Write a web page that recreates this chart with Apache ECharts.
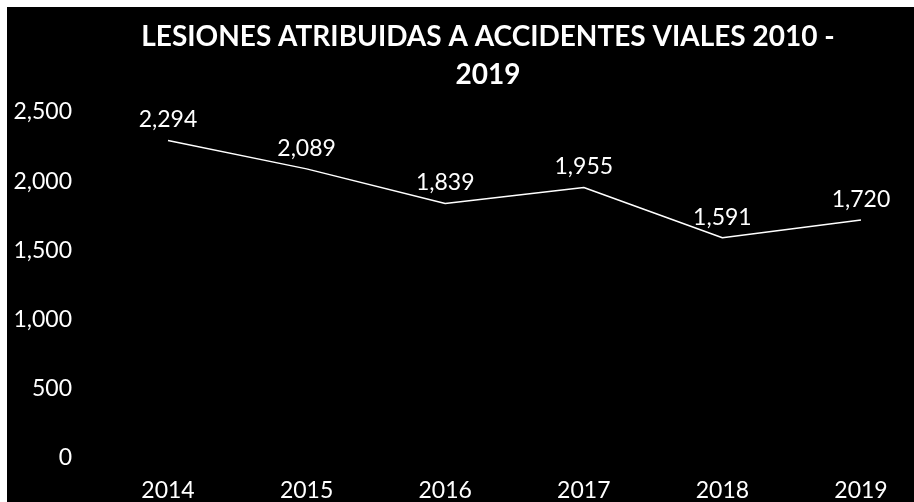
<!DOCTYPE html>
<html>
<head>
<meta charset="utf-8">
<script src="https://cdn.jsdelivr.net/npm/echarts@6/dist/echarts.min.js"></script>
<style>
  html, body { margin: 0; padding: 0; background: #ffffff; }
  #chart { position: absolute; left: 7px; top: 7px; width: 907px; height: 495px; background: #000000; }
</style>
</head>
<body>
<div id="chart"></div>
<script>
const titleText = 'LESIONES ATRIBUIDAS A ACCIDENTES VIALES 2010 -\n2019';
const categories = ['2014', '2015', '2016', '2017', '2018', '2019'];
const lesiones = [2294, 2089, 1839, 1955, 1591, 1720];
const yTicks = { min: 0, max: 2500, interval: 500 };

const fmt = v => Number(v).toLocaleString('en-US');
const chart = echarts.init(document.getElementById('chart'));
chart.setOption({
  backgroundColor: '#000000',
  animation: false,
  title: {
    text: titleText,
    left: 476,
    top: 6,
    textAlign: 'center',
    textStyle: {
      color: '#ffffff',
      fontFamily: 'Lato',
      fontWeight: 'bold',
      fontSize: 28,
      lineHeight: 38
    }
  },
  grid: { left: 161, right: 53, top: 105, bottom: 44 },
  xAxis: {
    type: 'category',
    data: categories,
    boundaryGap: false,
    axisLine: { show: false },
    axisTick: { show: false },
    axisLabel: { color: '#ffffff', fontFamily: 'Lato', fontSize: 23, margin: 21 }
  },
  yAxis: {
    type: 'value',
    min: yTicks.min,
    max: yTicks.max,
    interval: yTicks.interval,
    splitLine: { show: false },
    axisLine: { show: false },
    axisTick: { show: false },
    axisLabel: { color: '#ffffff', fontFamily: 'Lato', fontSize: 23, margin: 96, formatter: fmt }
  },
  series: [{
    type: 'line',
    data: lesiones,
    symbol: 'circle',
    symbolSize: 0,
    showSymbol: true,
    itemStyle: { color: '#ffffff' },
    lineStyle: { color: '#ffffff', width: 1.5 },
    label: {
      show: true,
      position: 'top',
      distance: 9,
      color: '#ffffff',
      fontFamily: 'Lato',
      fontSize: 23,
      formatter: p => fmt(p.value)
    }
  }]
});
</script>
</body>
</html>
